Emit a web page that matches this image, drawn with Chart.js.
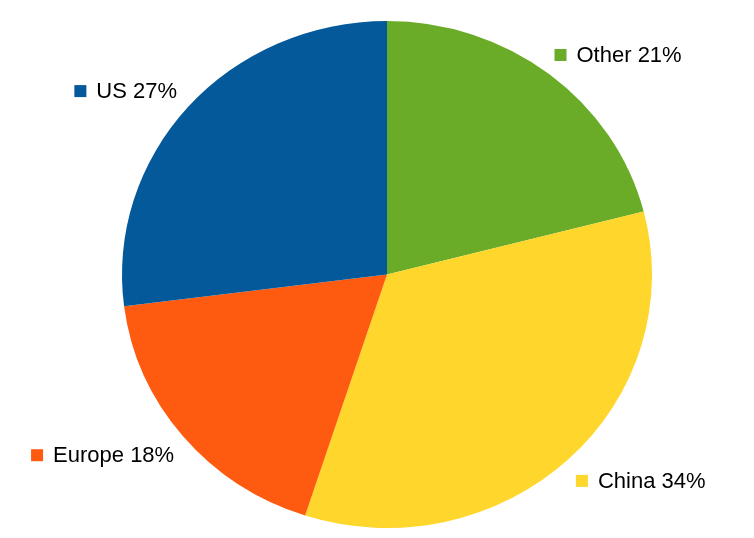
<!DOCTYPE html>
<html>
<head>
<meta charset="utf-8">
<script src="https://cdn.jsdelivr.net/npm/chart.js@4/dist/chart.umd.min.js"></script>
<style>
  html, body { margin: 0; padding: 0; background: #ffffff; }
  #wrap { width: 754px; height: 538px; }
</style>
</head>
<body>
<div id="wrap"><canvas id="c" width="754" height="538"></canvas></div>
<script>
// ---- data ----
const categories = ['Other', 'China', 'Europe', 'US'];
const shares = [21, 34, 18, 27];
const sliceColors = ['#6aac27', '#fed62c', '#ff5b10', '#04599b'];

// slight elliptical squash of the pie (the reference pie is wider than tall)
const SCALE_X = 1.0057;
const SCALE_Y = 0.962;

const ellipsePlugin = {
  id: 'ellipse',
  beforeDatasetsDraw(chart) {
    const arc = chart.getDatasetMeta(0).data[0];
    if (!arc) return;
    const ctx = chart.ctx;
    ctx.save();
    ctx.translate(arc.x, arc.y);
    ctx.scale(SCALE_X, SCALE_Y);
    ctx.translate(-arc.x, -arc.y);
  },
  afterDatasetsDraw(chart) {
    chart.ctx.restore();
  }
};

const labelPlugin = {
  id: 'outLabels',
  afterDraw(chart) {
    const ctx = chart.ctx;
    const meta = chart.getDatasetMeta(0);
    ctx.save();
    ctx.font = '22px "Liberation Sans", Arial, sans-serif';
    ctx.textBaseline = 'middle';
    meta.data.forEach((arc, i) => {
      const cx = arc.x, cy = arc.y;
      const rx = arc.outerRadius * SCALE_X;
      const ry = arc.outerRadius * SCALE_Y;
      const mid = (arc.startAngle + arc.endAngle) / 2;
      const y = cy + Math.sin(mid) * ry * 1.106 + 2;
      const t = Math.min(1, Math.abs(y - cy) / ry);
      const edge = rx * Math.sqrt(1 - t * t);
      const text = categories[i] + ' ' + shares[i] + '%';
      const tw = ctx.measureText(text).width;
      const box = 12, gap = 10;
      let left;
      if (Math.cos(mid) >= 0) {
        left = cx + edge + 35;
      } else {
        left = cx - edge - 27 - (box + gap + tw);
      }
      ctx.fillStyle = sliceColors[i];
      ctx.fillRect(left, y - box / 2, box, box);
      ctx.fillStyle = '#000000';
      ctx.textAlign = 'left';
      ctx.fillText(text, left + box + gap, y + 1);
    });
    ctx.restore();
  }
};

new Chart(document.getElementById('c'), {
  type: 'pie',
  data: {
    labels: categories,
    datasets: [{
      data: shares,
      backgroundColor: sliceColors,
      borderWidth: 0
    }]
  },
  options: {
    responsive: false,
    animation: false,
    layout: { padding: { top: 11, bottom: 0, left: 20, right: 0 } },
    plugins: {
      legend: { display: false },
      tooltip: { enabled: false },
      title: { display: false }
    }
  },
  plugins: [ellipsePlugin, labelPlugin]
});
</script>
</body>
</html>
